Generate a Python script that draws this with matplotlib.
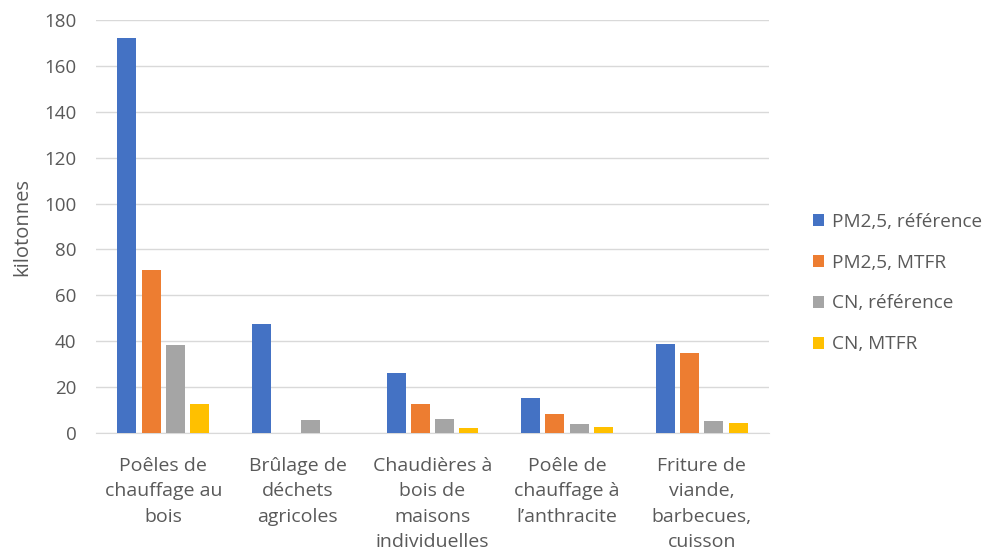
import matplotlib.pyplot as plt
import numpy as np

categories = ["Poêles de\nchauffage au\nbois", "Brûlage de\ndéchets\nagricoles",
              "Chaudières à\nbois de\nmaisons\nindividuelles", "Poêle de\nchauffage à\nl’anthracite",
              "Friture de\nviande,\nbarbecues,\ncuisson"]
series_names = ["PM2,5, référence", "PM2,5, MTFR", "CN, référence", "CN, MTFR"]
pm_ref = [172, 47.5, 26.2, 15.3, 38.7]
pm_mtfr = [71, 0, 12.6, 8.3, 34.7]
cn_ref = [38.2, 5.7, 6.0, 4.0, 5.1]
cn_mtfr = [12.6, 0, 2.2, 2.6, 4.2]
colors = ["#4472C4", "#ED7D31", "#A5A5A5", "#FFC000"]

plt.rcParams['font.family'] = ['Open Sans', 'DejaVu Sans']
text_col = "#595959"

fig = plt.figure(figsize=(9.82, 5.53), dpi=100)
ax = fig.add_axes([96 / 982, 1 - 433 / 553, 673 / 982, 413 / 553])

x = np.arange(len(categories))
step = 0.18
width = 0.141
for i, (vals, name) in enumerate(zip([pm_ref, pm_mtfr, cn_ref, cn_mtfr], series_names)):
    ax.bar(x + (i - 1.5) * step, vals, width, color=colors[i], label=name, zorder=3)

ax.set_xlim(-0.5, len(categories) - 0.5)
ax.set_ylim(0, 180)
ax.set_yticks(range(0, 181, 20))
ax.grid(axis="y", color="#d9d9d9", linewidth=1, zorder=0)
for s in ["top", "right", "left"]:
    ax.spines[s].set_visible(False)
ax.spines["bottom"].set_color("#d9d9d9")
ax.tick_params(axis="both", length=0, colors=text_col)
ax.tick_params(axis="y", pad=14, labelsize=13.5)
ax.tick_params(axis="x", pad=17)
ax.set_xticks(x)
ax.set_xticklabels(categories, fontsize=14, color=text_col, linespacing=1.54)
ax.set_ylabel("kilotonnes", fontsize=14.5, color=text_col, labelpad=9)

ax.legend(loc="center left", bbox_to_anchor=(1.04, 0.363), frameon=False, fontsize=13.7,
          handlelength=0.6, handleheight=0.6, handletextpad=0.4, labelspacing=1.2,
          labelcolor=text_col)

fig.savefig("out.png", dpi=100)
